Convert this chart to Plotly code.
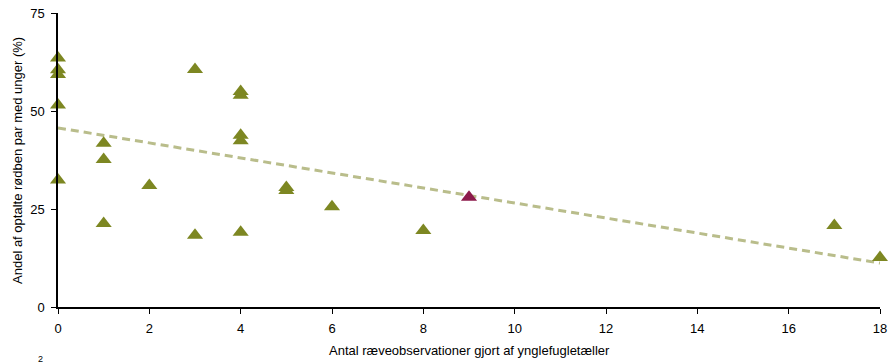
import plotly.graph_objects as go

# data
fox_obs = [0, 0, 0, 0, 0, 1, 1, 1, 2, 3, 3, 4, 4, 4, 4, 4, 5, 5, 6, 8, 17, 18]
pct_young = [63.5, 60.5, 59.3, 51.5, 32.4, 41.8, 37.6, 21.3, 31.0, 60.6, 18.3,
             55.0, 54.0, 43.8, 42.4, 19.1, 30.5, 29.7, 25.6, 19.5, 20.8, 12.6]
special_x = [9]
special_y = [28.0]
trend_x = [0, 18]
trend_y = [45.7, 11.2]

x_ticks = [0, 2, 4, 6, 8, 10, 12, 14, 16, 18]
y_ticks = [0, 25, 50, 75]

OLIVE = '#7d8722'
MAROON = '#8c1a4b'
TREND = '#b9bd8b'

fig = go.Figure()

fig.add_trace(go.Scatter(
    x=trend_x, y=trend_y, mode='lines',
    line=dict(color=TREND, width=3, dash='8px,5px'),
    hoverinfo='skip', cliponaxis=False
))

fig.add_trace(go.Scatter(
    x=fox_obs, y=pct_young, mode='markers',
    marker=dict(symbol='triangle-up', size=14, color=OLIVE, line=dict(width=0)),
    cliponaxis=False
))

fig.add_trace(go.Scatter(
    x=special_x, y=special_y, mode='markers',
    marker=dict(symbol='triangle-up', size=14, color=MAROON, line=dict(width=0)),
    cliponaxis=False
))

axis_font = dict(family='Liberation Sans, Arial, sans-serif', size=13, color='#000')

fig.update_layout(
    width=888, height=364,
    margin=dict(l=58, r=8, t=13, b=57),
    plot_bgcolor='white', paper_bgcolor='white',
    showlegend=False,
    font=axis_font,
    xaxis=dict(
        range=[0, 18], tickvals=x_ticks, showgrid=False, zeroline=False,
        showline=True, linecolor='black', linewidth=1.5,
        ticks='outside', ticklen=5, tickcolor='black',
        ticklabelstandoff=4, automargin=False, ticklabeloverflow='allow',
    ),
    yaxis=dict(
        range=[0, 75], tickvals=y_ticks, showgrid=False, zeroline=False,
        showline=True, linecolor='black', linewidth=1.5,
        ticks='outside', ticklen=5, tickcolor='black',
        ticklabelstandoff=4, automargin=False, ticklabeloverflow='allow',
    ),
    annotations=[
        dict(text='Antal ræveobservationer gjort af ynglefugletæller',
             xref='paper', yref='paper', x=0.5, y=-0.149,
             xanchor='center', yanchor='middle', showarrow=False, font=axis_font),
        dict(text='Andel af optalte rødben par med unger (%)',
             xref='paper', yref='paper', x=-0.0499, y=0.5, textangle=-90,
             xanchor='center', yanchor='middle', showarrow=False, font=axis_font),
        dict(text='2', xref='paper', yref='paper', x=-0.021, y=-0.153,
             xanchor='center', yanchor='top', showarrow=False,
             font=dict(family='Liberation Sans, Arial, sans-serif', size=9, color='#000')),
    ],
)

# drop the browser's default body margin so the figure fills the window
fig.write_html("out.html", config={'displayModeBar': False},
               post_script="document.body.style.margin='0';")
